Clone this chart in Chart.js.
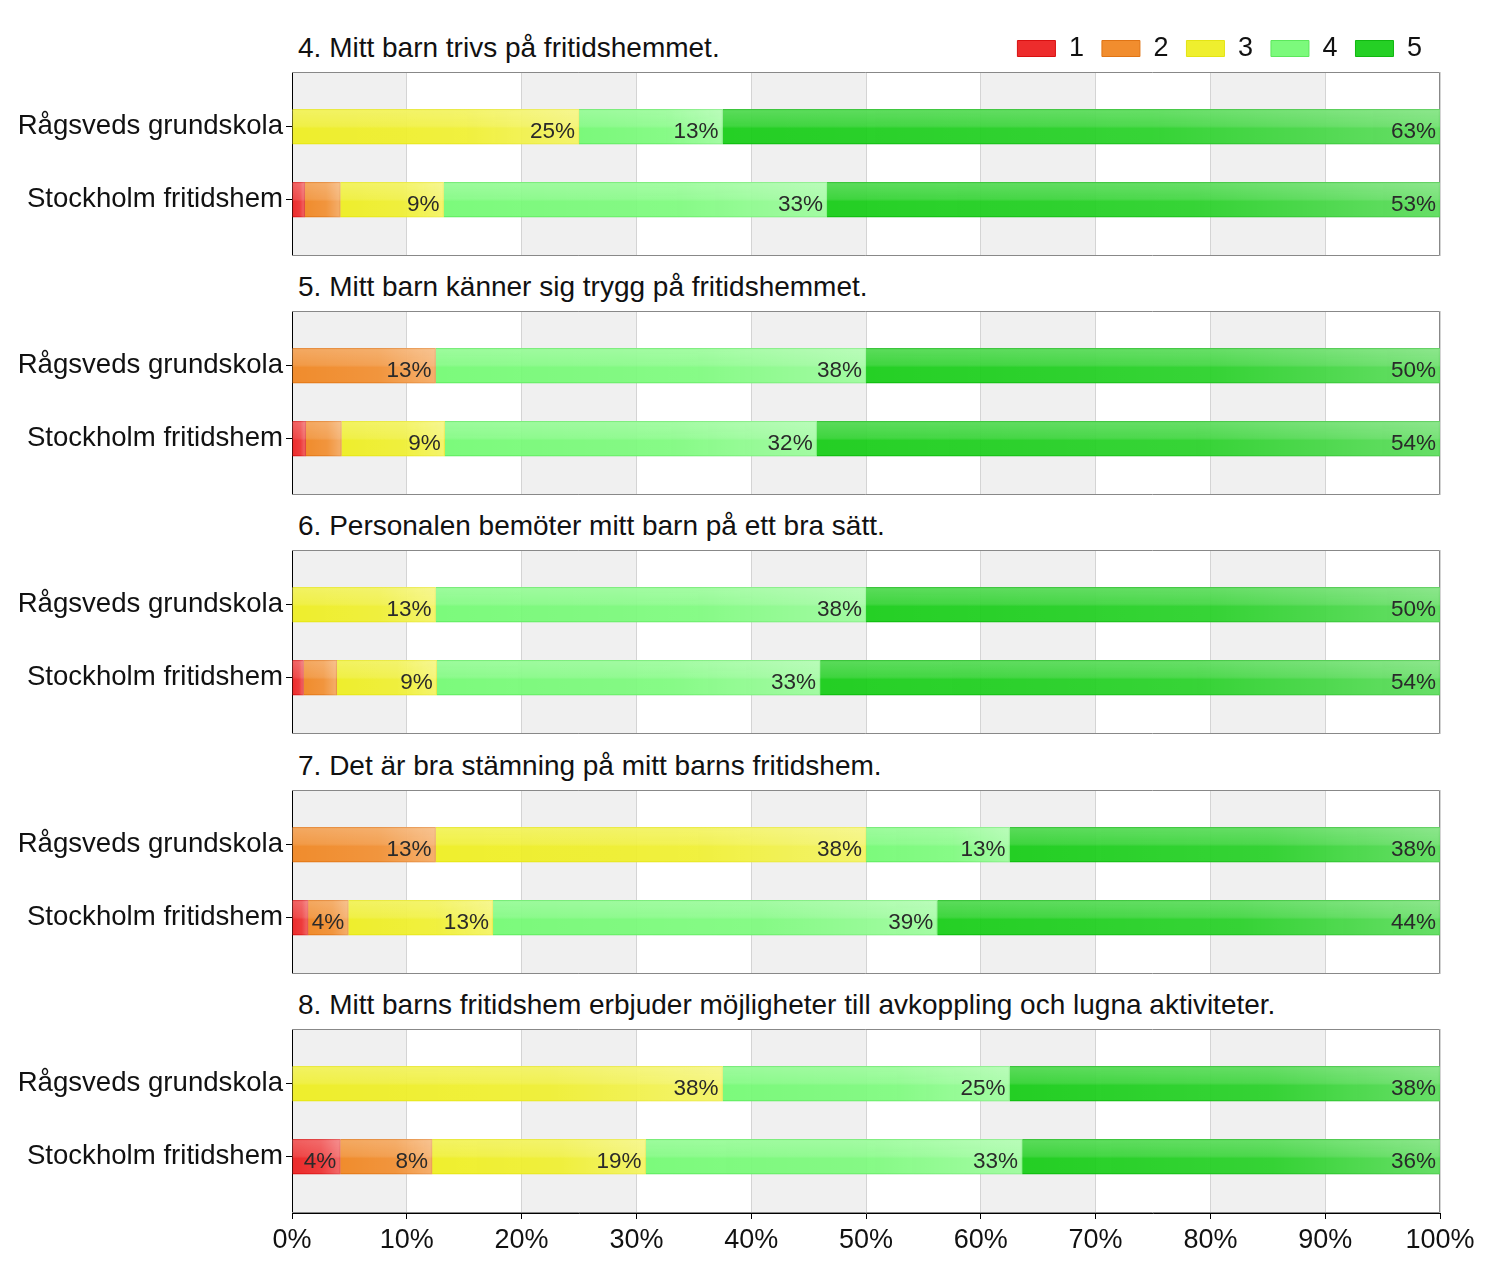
<!DOCTYPE html>
<html>
<head>
<meta charset="utf-8">
<script src="https://cdn.jsdelivr.net/npm/chart.js@4.4.1/dist/chart.umd.min.js"></script>
<style>
  body { margin: 0; background: #fff; }
  #page { position: relative; width: 1500px; height: 1270px; overflow: hidden; background: #fff; }
  canvas { position: absolute; left: 0; }
  .title { position: absolute; left: 298px; font: 28px "Liberation Sans", Arial, sans-serif; line-height: 28px; color: #111; white-space: nowrap; }
</style>
</head>
<body>
<div id="page"></div>
<script>
const categories = ['Rågsveds grundskola', 'Stockholm fritidshem'];
const levels = ['1', '2', '3', '4', '5'];
const questions = [
    '4. Mitt barn trivs på fritidshemmet.',
    '5. Mitt barn känner sig trygg på fritidshemmet.',
    '6. Personalen bemöter mitt barn på ett bra sätt.',
    '7. Det är bra stämning på mitt barns fritidshem.',
    '8. Mitt barns fritidshem erbjuder möjligheter till avkoppling och lugna aktiviteter.'
];
// percent per answer level 1..5
const q4Ragsved   = [0, 0, 25, 12.5, 62.5];
const q4Stockholm = [1.1, 3.1, 9.0, 33.4, 53.4];
const q5Ragsved   = [0, 12.5, 0, 37.5, 50];
const q5Stockholm = [1.2, 3.1, 9.0, 32.4, 54.3];
const q6Ragsved   = [0, 0, 12.5, 37.5, 50];
const q6Stockholm = [1.0, 2.9, 8.7, 33.4, 54.0];
const q7Ragsved   = [0, 12.5, 37.5, 12.5, 37.5];
const q7Stockholm = [1.4, 3.5, 12.6, 38.7, 43.8];
const q8Ragsved   = [0, 0, 37.5, 25, 37.5];
const q8Stockholm = [4.2, 8.0, 18.6, 32.8, 36.4];
const xTicks = [0, 10, 20, 30, 40, 50, 60, 70, 80, 90, 100];

const panels = [
    [q4Ragsved, q4Stockholm],
    [q5Ragsved, q5Stockholm],
    [q6Ragsved, q6Stockholm],
    [q7Ragsved, q7Stockholm],
    [q8Ragsved, q8Stockholm]
];

const fills = ['rgba(236,28,28,0.93)', 'rgba(240,132,30,0.93)', 'rgba(238,238,30,0.93)', 'rgba(114,250,114,0.93)', 'rgba(20,204,20,0.93)'];
const borders = ['#d81010', '#e07414', '#e4e414', '#5ce85c', '#10b810'];

const FONT = '"Liberation Sans", Arial, sans-serif';
const plotTops = [72, 311, 550, 790, 1029];
const plotH = 184;

// alternating grey bands behind the grid, plus the grey frame
const bandPlugin = {
    id: 'bands',
    beforeDraw(chart) {
        const {ctx, chartArea: a, scales: {x}} = chart;
        ctx.save();
        ctx.fillStyle = '#f0f0f0';
        for (let i = 0; i < xTicks.length - 1; i += 2) {
            const l = x.getPixelForValue(xTicks[i]);
            const r = x.getPixelForValue(xTicks[i + 1]);
            ctx.fillRect(l, a.top, r - l, a.bottom - a.top);
        }
        ctx.restore();
    },
    beforeDatasetsDraw(chart) {
        const {ctx, chartArea: a} = chart;
        ctx.save();
        ctx.strokeStyle = '#888';
        ctx.lineWidth = 1;
        ctx.beginPath();
        ctx.moveTo(a.left, a.top + 0.5);
        ctx.lineTo(a.right - 0.5, a.top + 0.5);
        ctx.lineTo(a.right - 0.5, a.bottom - 0.5);
        ctx.lineTo(a.left, a.bottom - 0.5);
        ctx.stroke();
        ctx.restore();
    }
};

// gloss on the bars and the percent labels
const glossPlugin = {
    id: 'gloss',
    afterDatasetsDraw(chart) {
        const ctx = chart.ctx;
        ctx.save();
        chart.data.datasets.forEach((ds, di) => {
            const meta = chart.getDatasetMeta(di);
            meta.data.forEach((el) => {
                const left = Math.min(el.base, el.x), right = Math.max(el.base, el.x);
                const w = right - left;
                if (w < 1) return;
                const top = el.y - el.height / 2, h = el.height;
                let g = ctx.createLinearGradient(left, 0, right, 0);
                g.addColorStop(0, 'rgba(255,255,255,0)');
                g.addColorStop(0.6, 'rgba(255,255,255,0.08)');
                g.addColorStop(1, 'rgba(255,255,255,0.3)');
                ctx.fillStyle = g;
                ctx.fillRect(left, top, w, h);
                g = ctx.createLinearGradient(0, top, 0, top + h);
                g.addColorStop(0, 'rgba(255,255,255,0.25)');
                g.addColorStop(0.48, 'rgba(255,255,255,0.12)');
                g.addColorStop(0.55, 'rgba(255,255,255,0)');
                g.addColorStop(1, 'rgba(255,255,255,0)');
                ctx.fillStyle = g;
                ctx.fillRect(left, top, w, h);
            });
        });
        ctx.font = '22.5px ' + FONT;
        ctx.fillStyle = '#2a2a2a';
        ctx.textAlign = 'right';
        ctx.textBaseline = 'middle';
        chart.data.datasets.forEach((ds, di) => {
            const meta = chart.getDatasetMeta(di);
            meta.data.forEach((el, i) => {
                const v = ds.data[i].x;
                if (v < 3.5) return;
                ctx.fillText(Math.round(v) + '%', Math.max(el.base, el.x) - 4, el.y + 5);
            });
        });
        ctx.restore();
    }
};

function makePanel(p) {
    const page = document.getElementById('page');
    const first = p === 0, last = p === panels.length - 1;
    const legendH = 55;
    const axisH = 57;
    const top = plotTops[p] - (first ? legendH : 0);
    const h = plotH + (first ? legendH : 0) + (last ? axisH : 0);

    const title = document.createElement('div');
    title.className = 'title';
    title.style.top = (plotTops[p] - 38) + 'px';
    title.textContent = questions[p];
    page.appendChild(title);

    const canvas = document.createElement('canvas');
    canvas.width = 1500;
    canvas.height = h;
    canvas.style.top = top + 'px';
    page.appendChild(canvas);

    const [rag, sto] = panels[p];
    const datasets = levels.map((lvl, k) => ({
        label: lvl,
        data: [{x: rag[k], y: 0}, {x: sto[k], y: 1}],
        backgroundColor: fills[k],
        borderColor: borders[k],
        borderWidth: 1,
        barThickness: 35
    }));

    new Chart(canvas.getContext('2d'), {
        type: 'bar',
        data: { datasets: datasets },
        options: {
            indexAxis: 'y',
            responsive: false,
            animation: false,
            devicePixelRatio: 1,
            layout: { padding: { left: 0, right: 60, top: 0, bottom: 0 } },
            plugins: {
                title: { display: false },
                tooltip: { enabled: false },
                legend: {
                    display: first,
                    position: 'top',
                    align: 'end',
                    labels: {
                        boxWidth: 38,
                        boxHeight: 16,
                        padding: 18,
                        color: '#111',
                        font: { size: 27, family: FONT }
                    }
                }
            },
            scales: {
                x: {
                    type: 'linear',
                    stacked: true,
                    min: 0,
                    max: 100,
                    afterBuildTicks: (s) => { s.ticks = xTicks.map(v => ({value: v})); },
                    afterFit: (s) => { s.height = last ? axisH : 0; },
                    ticks: {
                        display: last,
                        padding: 5,
                        color: '#111',
                        font: { size: 27, family: FONT },
                        callback: (v) => v + '%'
                    },
                    grid: {
                        color: '#d4d4d4',
                        drawTicks: last,
                        tickLength: 6,
                        tickColor: '#000'
                    },
                    border: { display: true, color: last ? '#000' : '#888' }
                },
                y: {
                    type: 'linear',
                    stacked: true,
                    reverse: true,
                    offset: false,
                    min: -0.75,
                    max: 1.77,
                    afterBuildTicks: (s) => { s.ticks = categories.map((c, i) => ({value: i})); },
                    afterFit: (s) => { s.width = 292; s.paddingTop = 0; s.paddingBottom = 0; },
                    ticks: {
                        padding: 3,
                        color: '#111',
                        font: { size: 27.6, family: FONT },
                        callback: (v) => categories[v]
                    },
                    grid: {
                        offset: false,
                        drawOnChartArea: false,
                        drawTicks: true,
                        tickLength: 6,
                        tickColor: '#000'
                    },
                    border: { display: true, color: '#000' }
                }
            }
        },
        plugins: [bandPlugin, glossPlugin]
    });
}

document.addEventListener('DOMContentLoaded', function() {
    panels.forEach((_, p) => makePanel(p));
});
</script>
</body>
</html>
